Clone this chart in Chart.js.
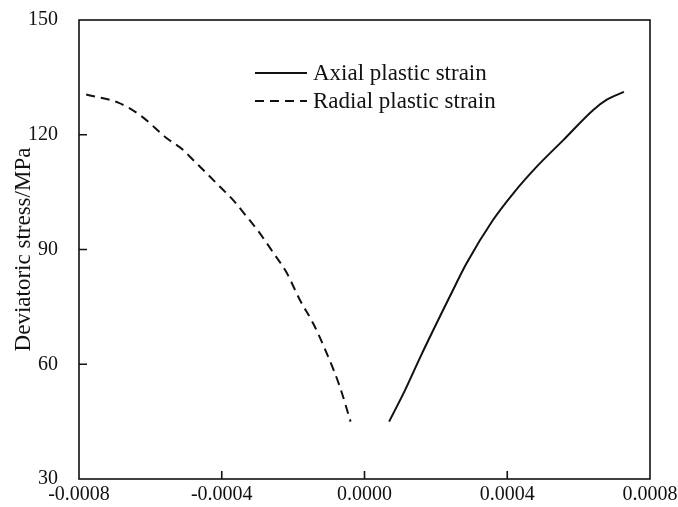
<!DOCTYPE html>
<html>
<head>
<meta charset="utf-8">
<script src="https://cdn.jsdelivr.net/npm/chart.js@4.4.1/dist/chart.umd.min.js"></script>
<style>
  html, body { margin:0; padding:0; background:#fff; }
  #wrap { width:678px; height:507px; }
</style>
</head>
<body>
<div id="wrap"><canvas id="stressChart"></canvas></div>
<script>
const radialX = [-0.00078, -0.00069, -0.00063, -0.000554, -0.000508, -0.00048, -0.000442, -0.000405, -0.000368, -0.00033, -0.000293, -0.000256, -0.000218, -0.000181, -0.000144, -0.000106, -0.000069, -0.000039];
const radialY = [130.5, 128.4, 125.2, 119.1, 116.0, 113.4, 109.9, 106.4, 102.9, 98.6, 94.2, 89.2, 83.9, 76.8, 70.7, 62.9, 54.1, 45.0];
const axialX = [0.000069, 0.000114, 0.000157, 0.000239, 0.000286, 0.00036, 0.000417, 0.000482, 0.000557, 0.000641, 0.000678, 0.000727];
const axialY = [45.0, 53.3, 62.0, 77.7, 86.4, 97.7, 104.7, 111.6, 118.6, 126.5, 129.1, 131.2];
const xTicks = [-0.0008, -0.0004, 0, 0.0004, 0.0008];
const yTicks = [30, 60, 90, 120, 150];

const FONT = "'Liberation Serif', 'Times New Roman', serif";

function toPoints(xs, ys){
    return xs.map((x,i)=>({x:x, y:ys[i]}));
}

// kill the automatic label overhang padding so layout.padding decides the plot box
function noOverhang(scale){
    scale.paddingLeft = 0;
    scale.paddingRight = 0;
    scale.paddingTop = 0;
    scale.paddingBottom = 0;
}

// frame, inward ticks and legend inside the plot
const framePlugin = {
    id:"frame",
    afterDraw(chart){
        const {ctx, chartArea:a, scales} = chart;
        ctx.save();
        ctx.strokeStyle = "#111";
        ctx.lineWidth = 1.6;
        ctx.strokeRect(a.left, a.top, a.right-a.left, a.bottom-a.top);
        ctx.beginPath();
        xTicks.slice(1,-1).forEach(v=>{
            const px = scales.x.getPixelForValue(v);
            ctx.moveTo(px, a.bottom);
            ctx.lineTo(px, a.bottom-8);
        });
        yTicks.slice(1,-1).forEach(v=>{
            const py = scales.y.getPixelForValue(v);
            ctx.moveTo(a.left, py);
            ctx.lineTo(a.left+8, py);
        });
        ctx.stroke();

        // legend
        ctx.font = "23px " + FONT;
        ctx.fillStyle = "#111";
        ctx.textBaseline = "middle";
        chart.data.datasets.forEach((ds,i)=>{
            const y = a.top + 53 + i*28;
            const x0 = a.left + 176;
            ctx.beginPath();
            ctx.lineWidth = 2;
            ctx.setLineDash(ds.borderDash || []);
            ctx.moveTo(x0, y);
            ctx.lineTo(x0+52, y);
            ctx.stroke();
            ctx.setLineDash([]);
            ctx.fillText(ds.label, x0+58, y+1);
        });
        ctx.restore();
    }
};

new Chart(document.getElementById("stressChart"),{
    type:"line",
    data:{
        datasets:[
            {
                label:"Axial plastic strain",
                data:toPoints(axialX, axialY),
                borderColor:"#111",
                borderWidth:2,
                pointRadius:0,
                cubicInterpolationMode:"monotone"
            },
            {
                label:"Radial plastic strain",
                data:toPoints(radialX, radialY),
                borderColor:"#111",
                borderWidth:2,
                borderDash:[9,6],
                pointRadius:0,
                cubicInterpolationMode:"monotone"
            }
        ]
    },
    options:{
        responsive:true,
        maintainAspectRatio:false,
        animation:false,
        layout:{ padding:{ left:0, right:28, top:20, bottom:0 } },
        plugins:{
            legend:{ display:false },
            tooltip:{ enabled:false }
        },
        scales:{
            x:{
                type:"linear",
                min:-0.0008,
                max:0.0008,
                afterBuildTicks(scale){ scale.ticks = xTicks.map(v=>({value:v})); },
                afterFit(scale){ scale.height = 28; noOverhang(scale); },
                grid:{ display:false, drawTicks:false },
                border:{ display:false },
                ticks:{
                    color:"#111",
                    padding:4,
                    maxRotation:0,
                    font:{ family:FONT, size:20 },
                    callback:(v)=>(Math.abs(v)<1e-12 ? 0 : v).toFixed(4)
                }
            },
            y:{
                min:30,
                max:150,
                afterBuildTicks(scale){ scale.ticks = yTicks.map(v=>({value:v})); },
                afterFit(scale){ scale.width = 79; noOverhang(scale); },
                grid:{ display:false, drawTicks:false },
                border:{ display:false },
                title:{
                    display:true,
                    text:"Deviatoric stress/MPa",
                    color:"#111",
                    font:{ family:FONT, size:23 },
                    padding:{ top:10, bottom:0 }
                },
                ticks:{
                    color:"#111",
                    padding:21,
                    font:{ family:FONT, size:20 }
                }
            }
        }
    },
    plugins:[framePlugin]
});
</script>
</body>
</html>
